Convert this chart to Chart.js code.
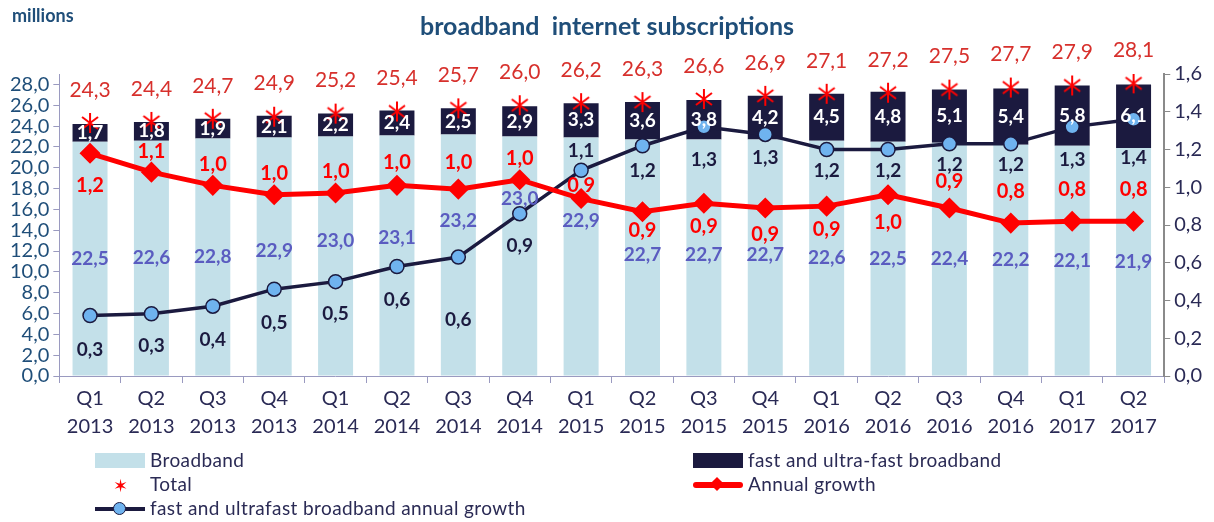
<!DOCTYPE html>
<html>
<head>
<meta charset="utf-8">
<script src="https://cdn.jsdelivr.net/npm/chart.js@4/dist/chart.umd.min.js"></script>
<style>
  body { margin: 0; background: #fff; font-family: Lato, "Open Sans", sans-serif; }
  #wrap { position: relative; width: 1214px; height: 522px; overflow: hidden; }
  #chart { position: absolute; left: 0; top: 0; }
  .unit { position: absolute; left: 12px; top: 4px; font-size: 18px; font-weight: bold; color: #1f4e79; }
  .title { position: absolute; left: 0; width: 1214px; top: 10px; text-align: center; font-size: 25px; font-weight: bold; color: #1f4e79; padding-left: 0; }
  .leg { position: absolute; font-size: 19px; letter-spacing: 0.4px; color: #2b2b55; line-height: 20px; }
  .sym { position: absolute; }
</style>
</head>
<body>
<div id="wrap">
  <canvas id="chart" width="1214" height="522"></canvas>
  <div class="unit">millions</div>
  <div class="title">broadband&nbsp; internet subscriptions</div>

  <div class="sym" style="left:95px;top:453px;width:50px;height:15px;background:#c3e0e9"></div>
  <div class="leg" style="left:150px;top:450px">Broadband</div>
  <div class="sym" style="left:693px;top:453px;width:50px;height:15px;background:#1b1a3f"></div>
  <div class="leg" style="left:748px;top:450px">fast and ultra-fast broadband</div>

  <div class="sym" style="left:113px;top:477px;color:#ff0000;font-size:18px;line-height:16px">&#x2736;</div>
  <div class="leg" style="left:150px;top:474px">Total</div>
  <div class="sym" style="left:693px;top:482px;width:50px;height:6px;background:#ff0000;border-radius:3px"></div>
  <div class="sym" style="left:712px;top:479px;width:10px;height:10px;background:#ff0000;transform:rotate(45deg)"></div>
  <div class="leg" style="left:748px;top:474px">Annual growth</div>

  <div class="sym" style="left:95px;top:507px;width:50px;height:4px;background:#1b1a3f"></div>
  <div class="sym" style="left:113px;top:502px;width:11px;height:11px;border-radius:50%;background:#6fb3ef;border:1.5px solid #1b1a3f"></div>
  <div class="leg" style="left:150px;top:498px">fast and ultrafast broadband annual growth</div>
</div>
<script>
const quarters = [
  ['Q1','2013'],['Q2','2013'],['Q3','2013'],['Q4','2013'],
  ['Q1','2014'],['Q2','2014'],['Q3','2014'],['Q4','2014'],
  ['Q1','2015'],['Q2','2015'],['Q3','2015'],['Q4','2015'],
  ['Q1','2016'],['Q2','2016'],['Q3','2016'],['Q4','2016'],
  ['Q1','2017'],['Q2','2017']
];
const broadband = [22.5, 22.6, 22.8, 22.9, 23.0, 23.1, 23.2, 23.0, 22.9, 22.7, 22.7, 22.7, 22.6, 22.5, 22.4, 22.2, 22.1, 21.9];
const fastBroadband = [1.7, 1.8, 1.9, 2.1, 2.2, 2.4, 2.5, 2.9, 3.3, 3.6, 3.8, 4.2, 4.5, 4.8, 5.1, 5.4, 5.8, 6.1];
const total = [24.3, 24.4, 24.7, 24.9, 25.2, 25.4, 25.7, 26.0, 26.2, 26.3, 26.6, 26.9, 27.1, 27.2, 27.5, 27.7, 27.9, 28.1];
const annualGrowth = [1.18, 1.08, 1.01, 0.96, 0.97, 1.01, 0.99, 1.04, 0.94, 0.87, 0.915, 0.89, 0.90, 0.96, 0.89, 0.81, 0.82, 0.82];
const fastGrowth = [0.32, 0.33, 0.37, 0.46, 0.50, 0.58, 0.63, 0.86, 1.09, 1.22, 1.32, 1.28, 1.20, 1.20, 1.23, 1.23, 1.32, 1.36];

// label nudges in px (style only)
const bbLabelDy = [0, 0, 0, -6, -15, -18, -34, -57, -36, -3, -3, -3, 0, 0, 0, 0, 0, 0];
const growthLabelDy = [32, -21, -21, -21, -21, -23, -27, -21, -13, 19, 23, 27, 23, 28, -26, -32, -32, -32];
const fastGrowthLabelDy = [34, 32, 34, 34, 32, 33, 63, 32, -19, 25, 33, 23, 21, 21, 21, 21, 33, 39];

const fmt = v => v.toFixed(1).replace('.', ',');
const FONT = 'Lato, "Open Sans", sans-serif';

// asterisk marker for Total
const star = document.createElement('canvas');
star.width = 22; star.height = 22;
(function () {
  const c = star.getContext('2d');
  c.strokeStyle = '#ff0000'; c.lineWidth = 2;
  c.beginPath();
  c.moveTo(3, 5); c.lineTo(19, 17);
  c.moveTo(19, 5); c.lineTo(3, 17);
  c.moveTo(11, 1); c.lineTo(11, 21);
  c.stroke();
})();

const valueLabels = {
  id: 'valueLabels',
  afterDatasetsDraw(chart) {
    const ctx = chart.ctx;
    ctx.save();
    ctx.textAlign = 'center';
    ctx.textBaseline = 'middle';
    const put = (txt, x, y, font, color) => {
      ctx.font = font; ctx.fillStyle = color; ctx.fillText(txt, x, y);
    };
    chart.getDatasetMeta(0).data.forEach((el, i) => {
      put(fmt(broadband[i]), el.x, (el.y + el.base) / 2 + bbLabelDy[i], 'bold 19px ' + FONT, '#5a5cc0');
    });
    chart.getDatasetMeta(1).data.forEach((el, i) => {
      put(fmt(fastBroadband[i]), el.x, (el.y + el.base) / 2, 'bold 19px ' + FONT, '#ffffff');
    });
    chart.getDatasetMeta(2).data.forEach((el, i) => {
      put(fmt(total[i]), el.x, el.y - 33, '21px ' + FONT, '#d7302c');
    });
    chart.getDatasetMeta(3).data.forEach((el, i) => {
      put(fmt(annualGrowth[i]), el.x, el.y + growthLabelDy[i], 'bold 20px ' + FONT, '#ff0000');
    });
    chart.getDatasetMeta(4).data.forEach((el, i) => {
      put(fmt(fastGrowth[i]), el.x, el.y + fastGrowthLabelDy[i], 'bold 19px ' + FONT, '#1b1a3f');
    });
    ctx.restore();
  }
};

new Chart(document.getElementById('chart'), {
  type: 'bar',
  data: {
    labels: quarters,
    datasets: [
      { label: 'Broadband', data: broadband, backgroundColor: '#c3e0e9', stack: 'bb', order: 2, yAxisID: 'y' },
      { label: 'fast and ultra-fast broadband', data: fastBroadband, backgroundColor: '#1b1a3f', stack: 'bb', order: 2, yAxisID: 'y' },
      { type: 'line', label: 'Total', data: total, showLine: false, pointStyle: star, pointRadius: 11, stack: 'tot', order: 1, yAxisID: 'y' },
      { type: 'line', label: 'Annual growth', data: annualGrowth, borderColor: '#ff0000', borderWidth: 5, pointStyle: 'rectRot', pointRadius: 7, pointBackgroundColor: '#ff0000', pointBorderColor: '#ff0000', order: 0, yAxisID: 'y1' },
      { type: 'line', label: 'fast and ultrafast broadband annual growth', data: fastGrowth, borderColor: '#1b1a3f', borderWidth: 3.5, pointStyle: 'circle', pointRadius: 7, pointBackgroundColor: '#6fb3ef', pointBorderColor: '#1b1a3f', pointBorderWidth: 1.5, order: 0, yAxisID: 'y1' }
    ]
  },
  options: {
    responsive: false,
    animation: false,
    layout: { padding: { left: 6, right: 8, top: 74, bottom: 79 } },
    datasets: { bar: { barPercentage: 0.57, categoryPercentage: 1 } },
    plugins: { legend: { display: false }, tooltip: { enabled: false } },
    scales: {
      x: {
        stacked: true,
        grid: { display: true, drawOnChartArea: false, tickLength: 7, color: '#9a9ac0', offset: true },
        border: { color: '#9a9ac0' },
        ticks: { font: { family: FONT, size: 20, lineHeight: 1.4 }, color: '#2a2a55', maxRotation: 0, autoSkip: false, padding: 2 }
      },
      y: {
        stacked: true, position: 'left', min: 0, max: 29,
        grid: { drawOnChartArea: false, tickLength: 6, color: '#9a9ac0' },
        border: { color: '#9a9ac0' },
        ticks: { stepSize: 2, autoSkip: false, includeBounds: false, font: { family: FONT, size: 20 }, color: '#1f4e79', padding: 4, callback: v => fmt(v) }
      },
      y1: {
        position: 'right', min: 0, max: 1.6,
        grid: { drawOnChartArea: false, tickLength: 6, color: '#8a8a8a' },
        border: { color: '#8a8a8a', width: 2 },
        ticks: { stepSize: 0.2, autoSkip: false, font: { family: FONT, size: 20 }, color: '#2a2a55', padding: 4, callback: v => fmt(v) }
      }
    }
  },
  plugins: [valueLabels]
});
</script>
</body>
</html>
